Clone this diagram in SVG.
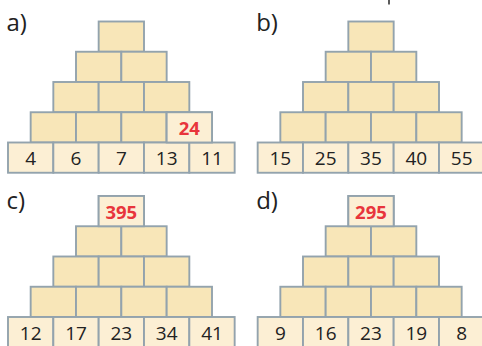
<svg xmlns="http://www.w3.org/2000/svg" width="482" height="346" viewBox="0 0 482 346">
<style>
rect{stroke:#93a3ad;stroke-width:1.9}
.u{fill:#f8e6b8}
.l{fill:#fcefd4}
text{font-family:"Open Sans","Noto Sans",sans-serif;text-anchor:middle}
.n{font-size:19px;fill:#222}
.r{font-size:18.5px;font-weight:bold;fill:#e8353c}
.lab{font-size:24px;fill:#222;text-anchor:start}
</style>
<defs>
<g id="empty">
<rect class="u" x="98.67" y="21.5" width="45.33" height="30.25"/>
<rect class="u" x="76" y="51.75" width="45.33" height="30.25"/>
<rect class="u" x="121.33" y="51.75" width="45.33" height="30.25"/>
<rect class="u" x="53.33" y="82" width="45.33" height="30.25"/>
<rect class="u" x="98.67" y="82" width="45.33" height="30.25"/>
<rect class="u" x="144" y="82" width="45.33" height="30.25"/>
<rect class="u" x="30.67" y="112.25" width="45.33" height="30.25"/>
<rect class="u" x="76" y="112.25" width="45.33" height="30.25"/>
<rect class="u" x="121.33" y="112.25" width="45.33" height="30.25"/>
<rect class="u" x="166.67" y="112.25" width="45.33" height="30.25"/>
<rect class="l" x="8" y="142.5" width="45.33" height="30.25"/>
<rect class="l" x="53.33" y="142.5" width="45.33" height="30.25"/>
<rect class="l" x="98.67" y="142.5" width="45.33" height="30.25"/>
<rect class="l" x="144" y="142.5" width="45.33" height="30.25"/>
<rect class="l" x="189.33" y="142.5" width="45.33" height="30.25"/>
</g>
</defs>
<line x1="389" y1="0" x2="389" y2="4.5" stroke="#333" stroke-width="1.6"/>
<g id="connectors"/>
<g id="pyramid-a">
<text class="lab" x="6.5" y="31">a)</text>
<use href="#empty"/>
<g id="a-24"><rect class="l" x="166.67" y="112.25" width="45.33" height="30.25"/><text class="r" x="189.33" y="134.6">24</text></g>
<g id="a-b1"><text class="n" x="30.67" y="165">4</text></g>
<g id="a-b2"><text class="n" x="76" y="165">6</text></g>
<g id="a-b3"><text class="n" x="121.33" y="165">7</text></g>
<g id="a-b4"><text class="n" x="166.67" y="165">13</text></g>
<g id="a-b5"><text class="n" x="212" y="165">11</text></g>
</g>
<g id="pyramid-b" transform="translate(249.67,0)">
<text class="lab" x="6.5" y="31">b)</text>
<use href="#empty"/>
<g id="b-b1"><text class="n" x="30.67" y="165">15</text></g>
<g id="b-b2"><text class="n" x="76" y="165">25</text></g>
<g id="b-b3"><text class="n" x="121.33" y="165">35</text></g>
<g id="b-b4"><text class="n" x="166.67" y="165">40</text></g>
<g id="b-b5"><text class="n" x="212" y="165">55</text></g>
</g>
<g id="pyramid-c" transform="translate(0,174.5)">
<text class="lab" x="6.5" y="34">c)</text>
<use href="#empty"/>
<g id="c-top"><rect class="l" x="98.67" y="21.5" width="45.33" height="30.25"/><text class="r" x="121.33" y="44">395</text></g>
<g id="c-b1"><text class="n" x="30.67" y="165">12</text></g>
<g id="c-b2"><text class="n" x="76" y="165">17</text></g>
<g id="c-b3"><text class="n" x="121.33" y="165">23</text></g>
<g id="c-b4"><text class="n" x="166.67" y="165">34</text></g>
<g id="c-b5"><text class="n" x="212" y="165">41</text></g>
</g>
<g id="pyramid-d" transform="translate(249.67,174.5)">
<text class="lab" x="6.5" y="34">d)</text>
<use href="#empty"/>
<g id="d-top"><rect class="l" x="98.67" y="21.5" width="45.33" height="30.25"/><text class="r" x="121.33" y="44">295</text></g>
<g id="d-b1"><text class="n" x="30.67" y="165">9</text></g>
<g id="d-b2"><text class="n" x="76" y="165">16</text></g>
<g id="d-b3"><text class="n" x="121.33" y="165">23</text></g>
<g id="d-b4"><text class="n" x="166.67" y="165">19</text></g>
<g id="d-b5"><text class="n" x="212" y="165">8</text></g>
</g>
</svg>
